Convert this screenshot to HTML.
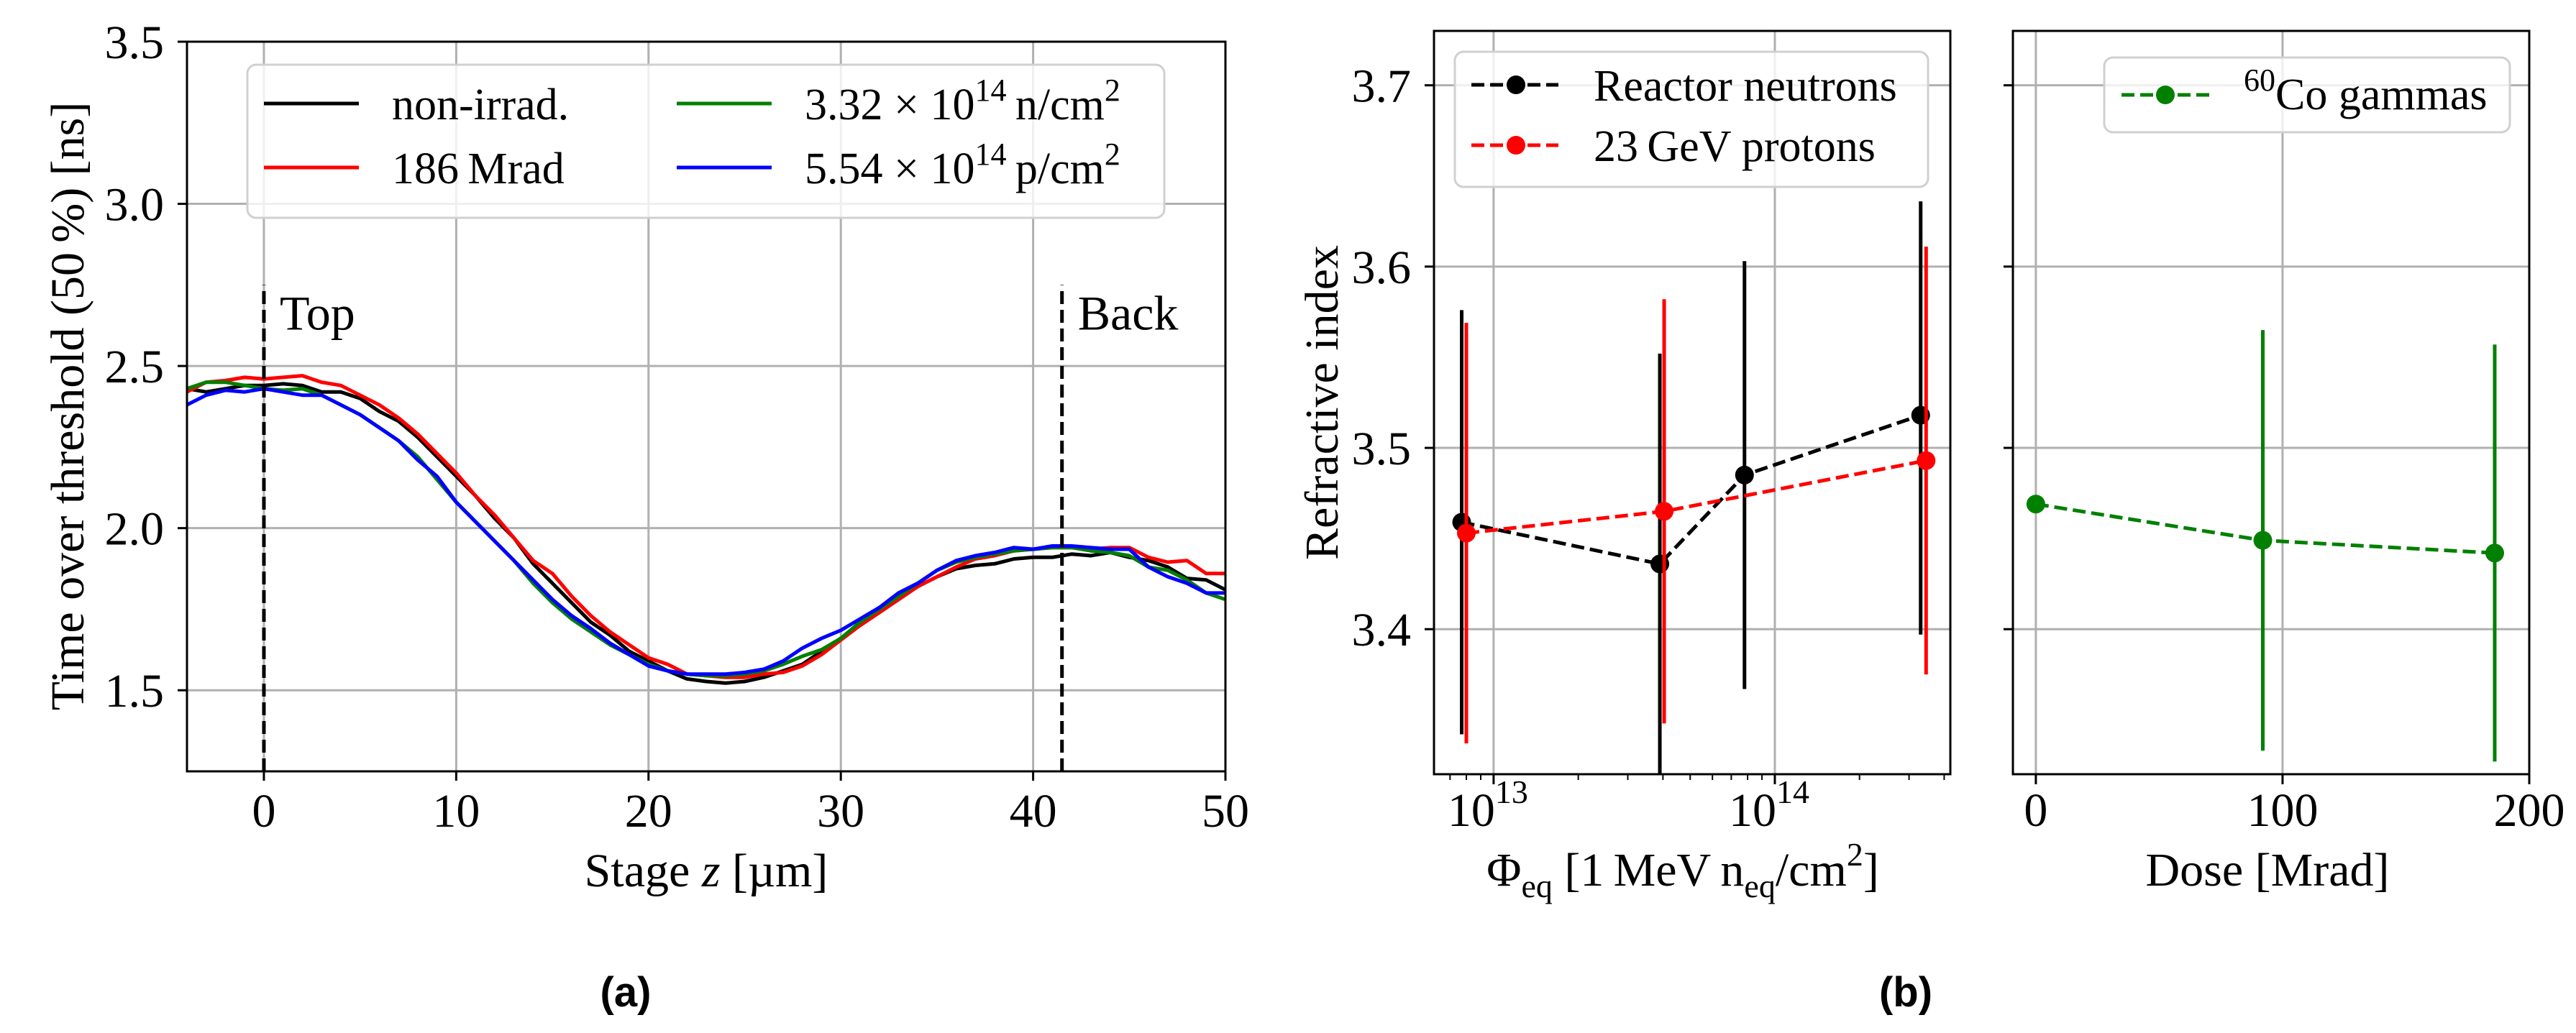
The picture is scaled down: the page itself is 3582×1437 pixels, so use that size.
<!DOCTYPE html>
<html><head><meta charset="utf-8"><style>
html,body{margin:0;padding:0;background:#fff;}
svg{display:block;font-family:"Liberation Serif","DejaVu Serif",serif;}
</style></head><body>
<svg id="fig" width="3582" height="1437" viewBox="0 0 3582 1437" xmlns="http://www.w3.org/2000/svg">
<rect width="3582" height="1437" fill="#fff"/>
<g id="pa"></g>
<g id="pb"></g>
<g id="pc"></g>
<text x="870" y="1400" font-family="Liberation Sans, sans-serif" font-weight="bold" font-size="58" text-anchor="middle">(a)</text>
<text x="2650" y="1400" font-family="Liberation Sans, sans-serif" font-weight="bold" font-size="58" text-anchor="middle">(b)</text>
</svg>
<script>
// ---------- Panel (a) data ----------
const zPos = [-4,-3,-2,-1,0,1,2,3,4,5,6,7,8,9,10,11,12,13,14,15,16,17,18,19,20,21,22,23,24,25,26,27,28,29,30,31,32,33,34,35,36,37,38,39,40,41,42,43,44,45,46,47,48,49,50];
const totNonIrrad = [2.43,2.42,2.43,2.44,2.44,2.445,2.44,2.42,2.42,2.40,2.36,2.33,2.28,2.22,2.16,2.10,2.03,1.97,1.89,1.83,1.77,1.71,1.67,1.62,1.59,1.56,1.535,1.527,1.522,1.527,1.54,1.56,1.58,1.62,1.66,1.70,1.74,1.78,1.82,1.85,1.875,1.885,1.89,1.905,1.91,1.91,1.92,1.915,1.925,1.91,1.90,1.88,1.845,1.84,1.81];
const totGamma = [2.42,2.45,2.455,2.465,2.46,2.465,2.47,2.45,2.44,2.41,2.38,2.34,2.29,2.23,2.17,2.10,2.04,1.97,1.90,1.86,1.79,1.73,1.68,1.64,1.60,1.58,1.55,1.545,1.54,1.54,1.55,1.555,1.575,1.61,1.655,1.70,1.74,1.78,1.82,1.85,1.88,1.905,1.915,1.93,1.935,1.94,1.94,1.935,1.94,1.94,1.91,1.895,1.90,1.86,1.86];
const totNeutron = [2.43,2.45,2.45,2.44,2.43,2.425,2.43,2.41,2.38,2.35,2.31,2.27,2.22,2.15,2.08,2.02,1.96,1.90,1.83,1.77,1.72,1.68,1.64,1.61,1.58,1.56,1.55,1.545,1.545,1.55,1.56,1.58,1.605,1.625,1.66,1.71,1.75,1.79,1.83,1.87,1.895,1.91,1.92,1.93,1.935,1.94,1.94,1.93,1.925,1.915,1.88,1.87,1.84,1.80,1.78];
const totProton = [2.38,2.41,2.425,2.42,2.43,2.42,2.41,2.41,2.38,2.35,2.31,2.27,2.21,2.16,2.08,2.02,1.96,1.90,1.84,1.78,1.73,1.69,1.645,1.61,1.575,1.56,1.55,1.55,1.55,1.555,1.565,1.59,1.63,1.66,1.685,1.72,1.755,1.80,1.83,1.87,1.90,1.915,1.925,1.94,1.935,1.945,1.945,1.94,1.935,1.935,1.88,1.85,1.83,1.80,1.80];
const aXTicks = [0,10,20,30,40,50];
const aYTicks = [1.5,2.0,2.5,3.0,3.5];
const aYTickLabels = ["1.5","2.0","2.5","3.0","3.5"];
const markerLines = [0,41.5];
const markerLabels = ["Top","Back"];
// ---------- Panel (b) data ----------
const nFluence = [7.7e12,3.9e13,7.8e13,3.3e14];
const nIndex = [3.459,3.436,3.485,3.518];
const nErrLo = [3.342,3.318,3.367,3.397];
const nErrHi = [3.576,3.552,3.603,3.636];
const pFluence = [8.0e12,4.04e13,3.45e14];
const pIndex = [3.453,3.465,3.493];
const pErrLo = [3.337,3.348,3.375];
const pErrHi = [3.569,3.582,3.611];
const gDose = [0,92,186];
const gIndex = [3.469,3.449,3.442];
const gErrLo = [3.469,3.333,3.327];
const gErrHi = [3.469,3.565,3.557];
const bYTicks = [3.4,3.5,3.6,3.7];
const dTicks = [0,100,200];

const NS="http://www.w3.org/2000/svg";
function mk(parent,tag,attrs,text){const e=document.createElementNS(NS,tag);for(const k in attrs)e.setAttribute(k,attrs[k]);if(text!==undefined)e.textContent=text;parent.appendChild(e);return e;}

// ===== Panel A =====
const pa=document.getElementById('pa');
const A={l:260,r:1704,t:58,b:1073,x0:-4,x1:50,y0:1.25,y1:3.5};
const ax=v=>A.l+(v-A.x0)/(A.x1-A.x0)*(A.r-A.l);
const ay=v=>A.b-(v-A.y0)/(A.y1-A.y0)*(A.b-A.t);
aXTicks.forEach(t=>{
  const g=mk(pa,'line',{x1:ax(t),x2:ax(t),y1:A.t,y2:A.b,stroke:'#b0b0b0','stroke-width':3});
  
  
  const tk=mk(pa,'line',{x1:ax(t),x2:ax(t),y1:A.b,y2:A.b+13,stroke:'#000','stroke-width':3});
  
  
  const lb=mk(pa,'text',{x:ax(t),y:1150,'font-size':66,'text-anchor':'middle'},String(t));
  
  
});
aYTicks.forEach((t,i)=>{
  const g=mk(pa,'line',{x1:A.l,x2:A.r,y1:ay(t),y2:ay(t),stroke:'#b0b0b0','stroke-width':3});
  
  
  const tk=mk(pa,'line',{x1:A.l-13,x2:A.l,y1:ay(t),y2:ay(t),stroke:'#000','stroke-width':3});
  
  
  const lb=mk(pa,'text',{x:228,y:ay(t)+23,'font-size':66,'text-anchor':'end'},aYTickLabels[i]);
  
  
});
const clipA=mk(pa,'clipPath',{id:'clipA'});mk(clipA,'rect',{x:A.l,y:A.t,width:A.r-A.l,height:A.b-A.t});
const series=[[totNonIrrad,'#000','curve-non-irrad'],[totGamma,'#f00','curve-186-mrad'],[totNeutron,'#008000','curve-neutrons'],[totProton,'#00f','curve-protons']];
series.forEach(s=>{
  const d=zPos.map((z,i)=>(i?'L':'M')+ax(z).toFixed(1)+','+ay(s[0][i]).toFixed(1)).join('');
  const p=mk(pa,'path',{d:d,fill:'none',stroke:s[1],'stroke-width':5,'stroke-linejoin':'round','clip-path':'url(#clipA)'});
  
  
});
markerLines.forEach((m,i)=>{
  const l=mk(pa,'line',{x1:ax(m),x2:ax(m),y1:A.b,y2:ay(2.75),stroke:'#000','stroke-width':5,'stroke-dasharray':'18,8'});
  
  
  const t=mk(pa,'text',{x:ax(m)+22,y:ay(2.75)+62,'font-size':68},markerLabels[i]);
  
  
});
mk(pa,'rect',{x:A.l,y:A.t,width:A.r-A.l,height:A.b-A.t,fill:'none',stroke:'#000','stroke-width':3});
// legend A
const legA=mk(pa,'g',{});


mk(legA,'rect',{x:344,y:90,width:1275,height:213,rx:12,fill:'rgba(255,255,255,0.8)',stroke:'#d0d0d0','stroke-width':3});
const legItems=[[367,144,'#000','non-irrad.',545],[367,233,'#f00','186\u2009Mrad',545],[941,144,'#008000',null,1119],[941,233,'#00f',null,1119]];
legItems.forEach((it,i)=>{
  const g=mk(legA,'g',{});
  
  
  mk(g,'line',{x1:it[0],x2:it[0]+132,y1:it[1],y2:it[1],stroke:it[2],'stroke-width':5});
  const t=mk(g,'text',{x:it[4],y:it[1]+22,'font-size':62});
  if(it[3]) t.textContent=it[3];
  else{
    const num=i===2?'3.32':'5.54', u=i===2?'n':'p';
    t.textContent=num+' \u00d7 10';
    mk(t,'tspan',{dy:-26,'font-size':44},'14');
    mk(t,'tspan',{dy:26},'\u2009'+u+'/cm');
    mk(t,'tspan',{dy:-26,'font-size':44},'2');
  }
});
const xla=mk(pa,'text',{x:982,y:1233,'font-size':66,'text-anchor':'middle'});


xla.textContent='Stage ';mk(xla,'tspan',{'font-style':'italic'},'z');mk(xla,'tspan',{},' [µm]');
const yla=mk(pa,'text',{x:0,y:0,'font-size':66,'text-anchor':'middle',transform:'translate(116,565) rotate(-90)'},'Time over threshold (50\u2009%) [ns]');



// ===== Panel B (log fluence) =====
const pb=document.getElementById('pb');
const B={l:1994,r:2712,t:43,b:1077,lx0:12.788,lx1:14.624,y0:3.32,y1:3.73};
const bx=v=>B.l+(Math.log10(v)-B.lx0)/(B.lx1-B.lx0)*(B.r-B.l);
const by=v=>B.b-(v-B.y0)/(B.y1-B.y0)*(B.b-B.t);
[1e13,1e14].forEach((t,i)=>{
  const g=mk(pb,'line',{x1:bx(t),x2:bx(t),y1:B.t,y2:B.b,stroke:'#b0b0b0','stroke-width':3});
  
  
  const tk=mk(pb,'line',{x1:bx(t),x2:bx(t),y1:B.b,y2:B.b+14,stroke:'#000','stroke-width':3});
  
  
  const lb=mk(pb,'text',{x:bx(t)-8,y:1149,'font-size':66,'text-anchor':'middle'},'10');
  mk(lb,'tspan',{dy:-32,'font-size':46},i?'14':'13');
  
  
});
for(let e=12;e<=14;e++)for(let m=2;m<=9;m++){const v=m*Math.pow(10,e);const x=bx(v);if(x>B.l&&x<B.r){const tk=mk(pb,'line',{x1:x,x2:x,y1:B.b,y2:B.b+8,stroke:'#000','stroke-width':2});}}
bYTicks.forEach(t=>{
  const g=mk(pb,'line',{x1:B.l,x2:B.r,y1:by(t),y2:by(t),stroke:'#b0b0b0','stroke-width':3});
  
  
  const tk=mk(pb,'line',{x1:B.l-13,x2:B.l,y1:by(t),y2:by(t),stroke:'#000','stroke-width':3});
  
  
  const lb=mk(pb,'text',{x:1962,y:by(t)+23,'font-size':66,'text-anchor':'end'},t.toFixed(1));
  
  
});
const clipB=mk(pb,'clipPath',{id:'clipB'});mk(clipB,'rect',{x:B.l,y:B.t,width:B.r-B.l,height:B.b-B.t});
function errSeries(par,X,Y,xs,ys,lo,hi,col,name,clip){
  const g=mk(par,'g',{'clip-path':clip});
  
  
  xs.forEach((x,i)=>{const e=mk(g,'line',{x1:X(x),x2:X(x),y1:Y(lo[i]),y2:Y(hi[i]),stroke:col,'stroke-width':5});});
  mk(g,'path',{d:xs.map((x,i)=>(i?'L':'M')+X(x)+','+Y(ys[i])).join(''),fill:'none',stroke:col,'stroke-width':5,'stroke-dasharray':'18,8'});
  xs.forEach((x,i)=>{const c=mk(g,'circle',{cx:X(x),cy:Y(ys[i]),r:13,fill:col});});
}
errSeries(pb,bx,by,nFluence,nIndex,nErrLo,nErrHi,'#000','series-reactor-neutrons','url(#clipB)');
errSeries(pb,bx,by,pFluence,pIndex,pErrLo,pErrHi,'#f00','series-23gev-protons','url(#clipB)');
mk(pb,'rect',{x:B.l,y:B.t,width:B.r-B.l,height:B.b-B.t,fill:'none',stroke:'#000','stroke-width':3});
const legB=mk(pb,'g',{});


mk(legB,'rect',{x:2023,y:72,width:658,height:188,rx:12,fill:'rgba(255,255,255,0.8)',stroke:'#d0d0d0','stroke-width':3});
[[118,'#000','Reactor neutrons'],[202,'#f00','23\u2009GeV protons']].forEach(it=>{
  const g=mk(legB,'g',{});
  
  
  mk(g,'line',{x1:2046,x2:2167,y1:it[0],y2:it[0],stroke:it[1],'stroke-width':5,'stroke-dasharray':'18,8'});
  mk(g,'circle',{cx:2108,cy:it[0],r:13,fill:it[1]});
  mk(g,'text',{x:2216,y:it[0]+22,'font-size':62},it[2]);
});
const xlb=mk(pb,'text',{x:2340,y:1232,'font-size':66,'text-anchor':'middle'});


xlb.textContent='\u03a6';mk(xlb,'tspan',{dy:16,'font-size':46},'eq');mk(xlb,'tspan',{dy:-16},' [1\u2009MeV\u2009n');mk(xlb,'tspan',{dy:16,'font-size':46},'eq');mk(xlb,'tspan',{dy:-16},'/cm');mk(xlb,'tspan',{dy:-28,'font-size':46},'2');mk(xlb,'tspan',{dy:28},']');
const ylb=mk(pb,'text',{x:0,y:0,'font-size':66,'text-anchor':'middle',transform:'translate(1860,560) rotate(-90)'},'Refractive index');



// ===== Panel C (dose) =====
const pc=document.getElementById('pc');
const C={l:2799,r:3517,t:43,b:1077,x0:-9.3,x1:200};
const cx=v=>C.l+(v-C.x0)/(C.x1-C.x0)*(C.r-C.l);
dTicks.forEach(t=>{
  const g=mk(pc,'line',{x1:cx(t),x2:cx(t),y1:C.t,y2:C.b,stroke:'#b0b0b0','stroke-width':3});
  
  
  const tk=mk(pc,'line',{x1:cx(t),x2:cx(t),y1:C.b,y2:C.b+14,stroke:'#000','stroke-width':3});
  
  
  const lb=mk(pc,'text',{x:cx(t),y:1149,'font-size':66,'text-anchor':'middle'},String(t));
  
  
});
bYTicks.forEach(t=>{
  const g=mk(pc,'line',{x1:C.l,x2:C.r,y1:by(t),y2:by(t),stroke:'#b0b0b0','stroke-width':3});
  
  
  const tk=mk(pc,'line',{x1:C.l-13,x2:C.l,y1:by(t),y2:by(t),stroke:'#000','stroke-width':3});
  
  
});
const clipC=mk(pc,'clipPath',{id:'clipC'});mk(clipC,'rect',{x:C.l,y:C.t,width:C.r-C.l,height:C.b-C.t});
errSeries(pc,cx,by,gDose,gIndex,gErrLo,gErrHi,'#008000','series-co60-gammas','url(#clipC)');
mk(pc,'rect',{x:C.l,y:C.t,width:C.r-C.l,height:C.b-C.t,fill:'none',stroke:'#000','stroke-width':3});
const legC=mk(pc,'g',{});


mk(legC,'rect',{x:2926,y:80,width:564,height:104,rx:12,fill:'rgba(255,255,255,0.8)',stroke:'#d0d0d0','stroke-width':3});
const gle=mk(legC,'g',{});


mk(gle,'line',{x1:2950,x2:3072,y1:132,y2:132,stroke:'#008000','stroke-width':5,'stroke-dasharray':'18,8'});
mk(gle,'circle',{cx:3011,cy:132,r:13,fill:'#008000'});
const gt=mk(gle,'text',{x:3120,y:152,'font-size':62});
mk(gt,'tspan',{dy:-26,'font-size':44},'60');mk(gt,'tspan',{dy:26},'Co gammas');
const xlc=mk(pc,'text',{x:3153,y:1232,'font-size':66,'text-anchor':'middle'},'Dose [Mrad]');


</script>
</body></html>
